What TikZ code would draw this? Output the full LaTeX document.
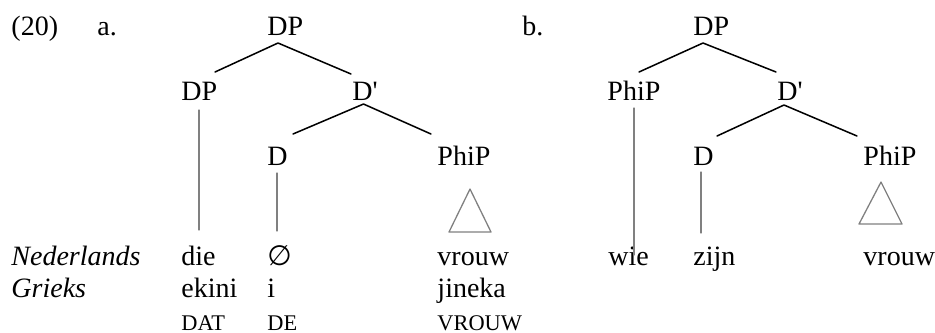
\documentclass[tikz,border=0pt]{standalone}
\usepackage{fontspec}
\setmainfont{Liberation Serif}
\newfontfamily\symfont{DejaVu Sans}
\usetikzlibrary{calc}
\begin{document}
\begin{tikzpicture}[x=0.4287pt,y=-0.4287pt,line join=round,line cap=round,
	lab/.style={anchor=base west,inner sep=0pt,font=\fontsize{12}{14}\selectfont},
	gl/.style={anchor=base west,inner sep=0pt,font=\fontsize{9.6}{11}\selectfont},
	tak/.style={black,line width=0.65pt},
	stok/.style={gray,line width=0.55pt}]
	\useasboundingbox (0,0) rectangle (935,332);
	% boom a
	\node[lab] (ex) at (11,35) {(20)};
	\node[lab] (la) at (97,35) {a.};
	\node[lab] (dpa) at (267,35) {DP};
	\node[lab] (spa) at (181,100) {DP};
	\node[lab] (dba) at (352,100) {D\textquotesingle};
	\node[lab] (da) at (267,165) {D};
	\node[lab] (phia) at (437,165) {PhiP};
	% glossen
	\node[lab] (ned) at (11,265) {\textit{Nederlands}};
	\node[lab] (gri) at (11,297) {\textit{Grieks}};
	\node[lab] (die) at (181,265) {die};
	\node[lab] (leeg) at (267,265) {{\symfont ∅}};
	\node[lab] (vra) at (437,265) {vrouw};
	\node[lab] (eki) at (181,297) {ekini};
	\node[lab] (ii) at (267,297) {i};
	\node[lab] (jin) at (437,297) {jineka};
	\node[gl] (dat) at (181,330) {DAT};
	\node[gl] (de) at (267,330) {DE};
	\node[gl] (vrg) at (437,330) {VROUW};
	% takken a
	\draw[tak] ($(spa.base west)+(34,-28)$) -- ($(dpa.base west)+(11,8)$) -- ($(dba.base west)+(-1,-26)$);
	\draw[tak] ($(da.base west)+(26,-31)$) -- ($(dba.base west)+(11.5,4)$) -- ($(phia.base west)+(-6,-31)$);
	\draw[stok] ($(spa.base west)+(18,10)$) -- ($(die.base west)+(18,-35)$);
	\draw[stok] ($(da.base west)+(10,8)$) -- ($(leeg.base west)+(10,-34)$);
	\draw[stok] ($(phia.base west)+(33,24)$) -- ($(phia.base west)+(12,67)$) -- ($(phia.base west)+(54,67)$) -- cycle;
	% boom b
	\node[lab] (lb) at (522,35) {b.};
	\node[lab] (dpb) at (693,35) {DP};
	\node[lab] (spb) at (607,100) {PhiP};
	\node[lab] (dbb) at (777,100) {D\textquotesingle};
	\node[lab] (db) at (693,165) {D};
	\node[lab] (phib) at (863,165) {PhiP};
	\node[lab] (wie) at (608,265) {wie};
	\node[lab] (zijn) at (693,265) {zijn};
	\node[lab] (vrb) at (863,265) {vrouw};
	% takken b
	\draw[tak] ($(spb.base west)+(32,-28)$) -- ($(dpb.base west)+(10,8)$) -- ($(dbb.base west)+(-1,-28)$);
	\draw[tak] ($(db.base west)+(24,-29)$) -- ($(dbb.base west)+(7,5)$) -- ($(phib.base west)+(-6,-29)$);
	\draw[stok] ($(spb.base west)+(27,8)$) -- ($(wie.base west)+(26,-10)$);
	\draw[stok] ($(db.base west)+(8,7)$) -- ($(zijn.base west)+(8,-32)$);
	\draw[stok] ($(phib.base west)+(18,17)$) -- ($(phib.base west)+(-4,59)$) -- ($(phib.base west)+(39,59)$) -- cycle;
\end{tikzpicture}
\end{document}
